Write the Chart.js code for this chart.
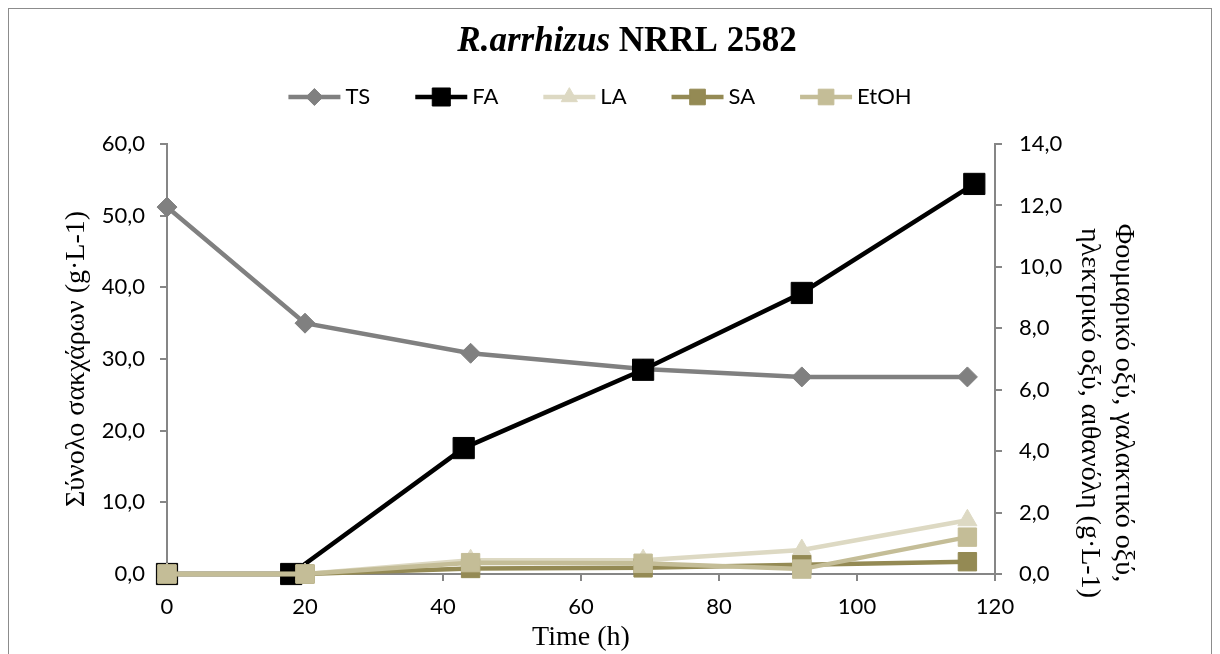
<!DOCTYPE html>
<html>
<head>
<meta charset="utf-8">
<script src="https://cdn.jsdelivr.net/npm/chart.js@4.4.1/dist/chart.umd.min.js"></script>
<style>
    html, body { margin: 0; padding: 0; background: #fff; }
    #wrap { position: relative; width: 1220px; height: 654px; }
</style>
</head>
<body>
<div id="wrap"><canvas id="main-chart"></canvas></div>
<script>
// Sampling times (h)
const timeTS = [0, 20, 44, 69, 92, 116];
const timeFA = [0, 18, 43, 69, 92, 117];
const timeAcids = [0, 20, 44, 69, 92, 116];

// Total sugars (left axis, g/L)
const sugarsTS = [51.2, 35.0, 30.8, 28.6, 27.5, 27.5];
// Products (right axis, g/L)
const fumaricFA = [0, 0, 4.1, 6.65, 9.15, 12.7];
const lacticLA = [0, 0, 0.45, 0.45, 0.78, 1.75];
const succinicSA = [0, 0, 0.18, 0.2, 0.3, 0.4];
const ethanolEtOH = [0, 0, 0.37, 0.35, 0.16, 1.2];

const xTicks = [0, 20, 40, 60, 80, 100, 120];
const leftTicks = [0, 10, 20, 30, 40, 50, 60];
const rightTicks = [0, 2, 4, 6, 8, 10, 12, 14];

const titleItalic = 'R.arrhizus';
const titleRest = 'NRRL 2582';
const leftTitle = 'Σύνολο σακχάρων (g·L-1)';
const rightTitle = ['Φουμαρικό οξύ, γαλακτικό οξύ,', 'ηλεκτρικό οξύ, αιθανόλη (g·L-1)'];
const xTitle = 'Time (h)';

const AXIS = '#868686';
const TICK_FONT = { family: 'Lato', size: 22 };
const SERIF = 'Liberation Serif';

function points(xs, ys) {
    return xs.map((x, i) => ({ x: x, y: ys[i] }));
}

function series(label, xs, ys, color, style, radius, axis, order) {
    return {
        label,
        data: points(xs, ys),
        yAxisID: axis,
        borderColor: color,
        backgroundColor: color,
        pointBackgroundColor: color,
        pointBorderColor: color,
        pointStyle: style,
        pointRadius: radius,
        pointBorderWidth: 1,
        borderWidth: 4.5,
        tension: 0,
        clip: false,
        order,
    };
}

const datasets = [
    series('TS', timeTS, sugarsTS, '#808080', 'rectRot', 10, 'y', 4),
    series('FA', timeFA, fumaricFA, '#000000', 'rect', 15, 'y1', 3),
    series('LA', timeAcids, lacticLA, '#DDD9C3', 'triangle', 11, 'y1', 2),
    series('SA', timeAcids, succinicSA, '#948A54', 'rect', 13, 'y1', 1),
    series('EtOH', timeAcids, ethanolEtOH, '#C4BD97', 'rect', 13, 'y1', 0),
];

const comma = v => v.toFixed(1).replace('.', ',');

// Title, legend, right axis title and frame drawn on the canvas
const decorations = {
    id: 'decorations',
    beforeDraw(chart) {
        const ctx = chart.ctx;
        ctx.save();
        ctx.strokeStyle = '#8c8c8c';
        ctx.lineWidth = 1;
        ctx.strokeRect(8.5, 8.5, 1203, 700);
        ctx.restore();
    },
    afterDraw(chart) {
        const ctx = chart.ctx;
        ctx.save();

        // main title, italic part + bold part
        ctx.fillStyle = '#000';
        ctx.textBaseline = 'alphabetic';
        const fItal = `italic bold 35px "${SERIF}"`;
        const fBold = `bold 35px "${SERIF}"`;
        ctx.font = fItal;
        const w1 = ctx.measureText(titleItalic + ' ').width;
        ctx.font = fBold;
        const w2 = ctx.measureText(titleRest).width;
        let tx = 627 - (w1 + w2) / 2;
        ctx.font = fItal;
        ctx.fillText(titleItalic + ' ', tx, 51);
        ctx.font = fBold;
        ctx.fillText(titleRest, tx + w1, 51);

        // legend: line with marker, then label
        ctx.font = `${TICK_FONT.size}px ${TICK_FONT.family}`;
        const lineLen = 52, textGap = 5, itemGap = 45, ly = 97;
        const widths = chart.data.datasets.map(d => ctx.measureText(d.label).width);
        const total = widths.reduce((a, w) => a + lineLen + textGap + w, 0) + itemGap * (widths.length - 1);
        let lx = 600 - total / 2;
        chart.data.datasets.forEach((d, i) => {
            ctx.strokeStyle = d.borderColor;
            ctx.lineWidth = d.borderWidth;
            ctx.beginPath();
            ctx.moveTo(lx, ly);
            ctx.lineTo(lx + lineLen, ly);
            ctx.stroke();
            ctx.fillStyle = d.pointBackgroundColor;
            ctx.strokeStyle = d.pointBorderColor;
            ctx.lineWidth = 1;
            Chart.helpers.drawPoint(ctx, {
                pointStyle: d.pointStyle,
                radius: d.pointRadius * 0.85,
                rotation: 0,
                borderWidth: 1,
            }, lx + lineLen / 2, ly);
            ctx.fillStyle = '#000';
            ctx.textAlign = 'left';
            ctx.textBaseline = 'middle';
            ctx.fillText(d.label, lx + lineLen + textGap, ly);
            lx += lineLen + textGap + widths[i] + itemGap;
        });

        // right axis title, rotated to read downwards
        ctx.font = `28px "${SERIF}"`;
        ctx.fillStyle = '#000';
        ctx.textAlign = 'center';
        ctx.textBaseline = 'middle';
        const centers = [[1123, 403], [1089, 413]];
        rightTitle.forEach((line, i) => {
            ctx.save();
            ctx.translate(centers[i][0], centers[i][1]);
            ctx.rotate(Math.PI / 2);
            ctx.fillText(line, 0, 0);
            ctx.restore();
        });
        ctx.restore();
    }
};

function axisBase(ticks) {
    return {
        type: 'linear',
        min: ticks[0],
        max: ticks[ticks.length - 1],
        grid: { drawOnChartArea: false, drawTicks: true, tickLength: 7, color: AXIS, lineWidth: 2 },
        border: { display: true, color: AXIS, width: 2 },
    };
}

const ctx = document.getElementById('main-chart');
new Chart(ctx, {
    type: 'line',
    data: { datasets },
    options: {
        responsive: true,
        maintainAspectRatio: false,
        animation: false,
        layout: { padding: { top: 144, left: 0, right: 0, bottom: 0 } },
        plugins: {
            legend: { display: false },
            title: { display: false },
            tooltip: { enabled: false },
        },
        scales: {
            x: Object.assign(axisBase(xTicks), {
                position: 'bottom',
                ticks: { stepSize: 20, color: '#000', font: TICK_FONT, padding: 13, maxRotation: 0 },
                title: { display: true, text: xTitle, color: '#000', font: { family: SERIF, size: 28 }, padding: { top: 0, bottom: 0 } },
                afterFit: s => { s.height = 80; },
            }),
            y: Object.assign(axisBase(leftTicks), {
                position: 'left',
                ticks: { stepSize: 10, color: '#000', font: TICK_FONT, padding: 15, callback: comma },
                title: { display: true, text: leftTitle, color: '#000', font: { family: SERIF, size: 28 }, padding: { top: 60, bottom: 0 } },
                afterFit: s => { s.width = 167; },
            }),
            y1: Object.assign(axisBase(rightTicks), {
                position: 'right',
                ticks: { stepSize: 2, color: '#000', font: TICK_FONT, padding: 17, callback: comma },
                afterFit: s => { s.width = 225; },
            }),
        },
    },
    plugins: [decorations],
});
</script>
</body>
</html>
